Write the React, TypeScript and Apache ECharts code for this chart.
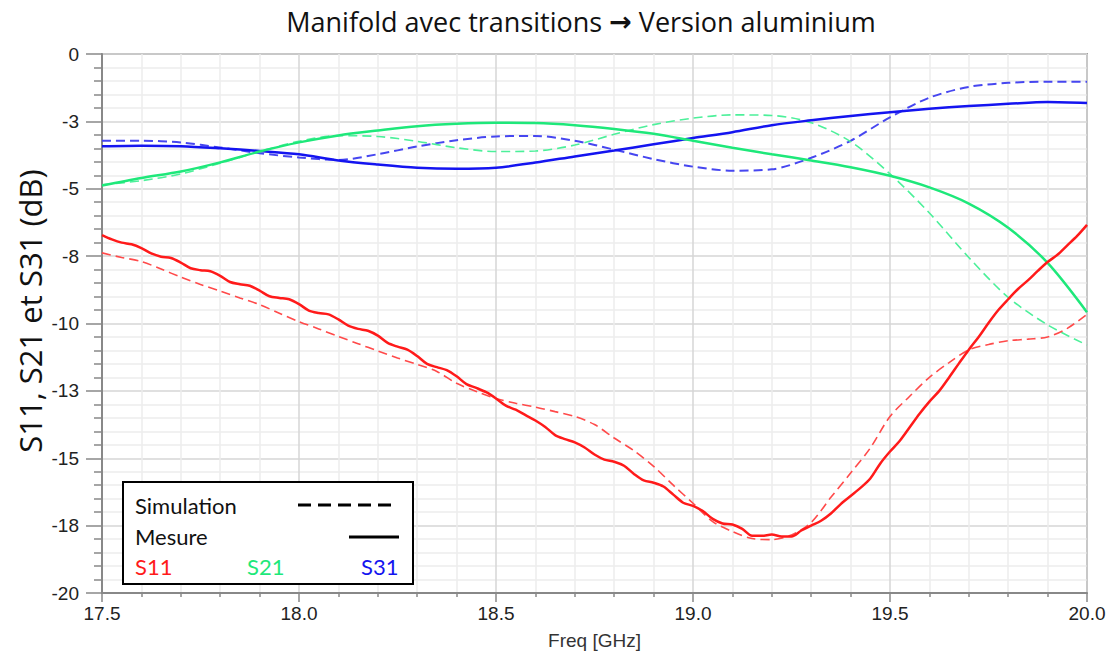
import React, { useEffect, useRef } from "react";
import * as echarts from "echarts";

// ---- Data ----
const freq01 = [17.5, 17.6, 17.7, 17.8, 17.9, 18.0, 18.1, 18.2, 18.3, 18.4, 18.5, 18.6, 18.7, 18.8, 18.9, 19.0, 19.1, 19.2, 19.3, 19.4, 19.5, 19.6, 19.7, 19.8, 19.9, 20.0];

const s31Meas = [-3.42, -3.4, -3.42, -3.5, -3.6, -3.72, -3.95, -4.1, -4.22, -4.26, -4.22, -4.03, -3.8, -3.58, -3.35, -3.12, -2.9, -2.64, -2.46, -2.3, -2.16, -2.03, -1.93, -1.85, -1.78, -1.82];
const s31Sim = [-3.22, -3.22, -3.28, -3.47, -3.68, -3.84, -3.93, -3.72, -3.43, -3.2, -3.06, -3.04, -3.22, -3.55, -3.9, -4.18, -4.33, -4.28, -3.85, -3.22, -2.35, -1.62, -1.22, -1.07, -1.03, -1.03];
const s21Meas = [-4.88, -4.6, -4.36, -4.02, -3.62, -3.28, -3.02, -2.84, -2.68, -2.59, -2.55, -2.56, -2.64, -2.78, -2.96, -3.22, -3.48, -3.72, -3.95, -4.2, -4.52, -4.95, -5.55, -6.45, -7.75, -9.58];
const s21Sim = [-4.85, -4.7, -4.45, -4.05, -3.62, -3.24, -3.03, -3.06, -3.24, -3.48, -3.62, -3.6, -3.38, -2.98, -2.62, -2.38, -2.26, -2.28, -2.55, -3.25, -4.45, -5.9, -7.55, -9.03, -10.05, -10.8];

const freq005 = [17.5, 17.55, 17.6, 17.65, 17.7, 17.75, 17.8, 17.85, 17.9, 17.95, 18.0, 18.05, 18.1, 18.15, 18.2, 18.25, 18.3, 18.35, 18.4, 18.45, 18.5, 18.55, 18.6, 18.65, 18.7, 18.75, 18.8, 18.85, 18.9, 18.95, 19.0, 19.05, 19.1, 19.15, 19.2, 19.25, 19.3, 19.35, 19.4, 19.45, 19.5, 19.55, 19.6, 19.65, 19.7, 19.75, 19.8, 19.85, 19.9, 19.95, 20.0];
const s11Sim = [-7.38, -7.55, -7.7, -7.98, -8.28, -8.55, -8.8, -9.05, -9.3, -9.62, -9.93, -10.2, -10.48, -10.75, -11.02, -11.28, -11.52, -11.78, -12.22, -12.52, -12.78, -12.96, -13.1, -13.27, -13.45, -13.75, -14.25, -14.72, -15.3, -16.0, -16.67, -17.35, -17.72, -17.98, -18.02, -17.85, -17.38, -16.45, -15.55, -14.62, -13.45, -12.7, -12.0, -11.45, -10.98, -10.78, -10.64, -10.58, -10.5, -10.18, -9.66];

const freq0025 = [17.5, 17.525, 17.55, 17.575, 17.6, 17.625, 17.65, 17.675, 17.7, 17.725, 17.75, 17.775, 17.8, 17.825, 17.85, 17.875, 17.9, 17.925, 17.95, 17.975, 18.0, 18.025, 18.05, 18.075, 18.1, 18.125, 18.15, 18.175, 18.2, 18.225, 18.25, 18.275, 18.3, 18.325, 18.35, 18.375, 18.4, 18.425, 18.45, 18.475, 18.5, 18.525, 18.55, 18.575, 18.6, 18.625, 18.65, 18.675, 18.7, 18.725, 18.75, 18.775, 18.8, 18.825, 18.85, 18.875, 18.9, 18.925, 18.95, 18.975, 19.0, 19.025, 19.05, 19.075, 19.1, 19.125, 19.15, 19.175, 19.2, 19.225, 19.25, 19.275, 19.3, 19.325, 19.35, 19.375, 19.4, 19.425, 19.45, 19.475, 19.5, 19.525, 19.55, 19.575, 19.6, 19.625, 19.65, 19.675, 19.7, 19.725, 19.75, 19.775, 19.8, 19.825, 19.85, 19.875, 19.9, 19.925, 19.95, 19.975, 20.0];
const s11Meas = [-6.72, -6.88, -7.0, -7.06, -7.2, -7.4, -7.52, -7.57, -7.74, -7.95, -8.02, -8.06, -8.23, -8.46, -8.54, -8.6, -8.78, -8.99, -9.05, -9.1, -9.28, -9.52, -9.61, -9.66, -9.85, -10.08, -10.2, -10.27, -10.45, -10.72, -10.86, -10.97, -11.21, -11.5, -11.62, -11.73, -11.96, -12.25, -12.39, -12.55, -12.78, -13.05, -13.2, -13.4, -13.6, -13.84, -14.14, -14.29, -14.41, -14.6, -14.86, -15.05, -15.13, -15.28, -15.58, -15.82, -15.91, -16.05, -16.35, -16.65, -16.77, -16.96, -17.25, -17.42, -17.46, -17.62, -17.88, -17.88, -17.83, -17.9, -17.9, -17.68, -17.5, -17.32, -17.05, -16.7, -16.4, -16.1, -15.75, -15.2, -14.75, -14.35, -13.85, -13.35, -12.9, -12.5, -12.0, -11.48, -10.97, -10.5, -9.98, -9.5, -9.1, -8.72, -8.4, -8.05, -7.72, -7.45, -7.1, -6.75, -6.34];

const legendLabels = ["Simulation", "Mesure"];
const seriesLabels = ["S11", "S21", "S31"];

const RED = "#ff1a1a";
const RED_D = "#ff4a4a";
const GREEN = "#1ee87a";
const GREEN_D = "#4cf09a";
const BLUE = "#1414f0";
const BLUE_D = "#4646f0";

const zip = (xs: number[], ys: number[]) => xs.map((x, i) => [x, ys[i]]);

export default function App() {
  const ref = useRef<HTMLDivElement>(null);
  useEffect(() => {
    if (!ref.current) return;
    const chart = echarts.init(ref.current, undefined, { renderer: "svg" });
    const tickFont = { fontFamily: "Liberation Sans, Arial, sans-serif", fontSize: 19, color: "#222" };
    const dashed = (name: string, xs: number[], ys: number[], color: string, w: number) => ({
      name, type: "line", data: zip(xs, ys), showSymbol: false, smooth: 0.3,
      lineStyle: { color, width: w, type: [9, 5] }, z: 3,
    });
    const solid = (name: string, xs: number[], ys: number[], color: string) => ({
      name, type: "line", data: zip(xs, ys), showSymbol: false, smooth: 0.3,
      lineStyle: { color, width: 2.5, type: "solid" }, z: 4,
    });
    const Z = 100;
    const legFont = "22px Lato, sans-serif";
    chart.setOption({
      animation: false,
      backgroundColor: "#ffffff",
      title: {
        text: "{t|Manifold avec transitions }{a|\u2192}{t| Version aluminium}",
        left: 576, top: 3, textAlign: "center",
        textStyle: {
          fontWeight: "normal",
          rich: {
            t: { fontFamily: "Open Sans, sans-serif", fontSize: 27, fontWeight: "normal", color: "#111" },
            a: { fontFamily: "DejaVu Sans, sans-serif", fontSize: 27, fontWeight: "bold", color: "#111" },
          },
        },
      },
      grid: { left: 102, right: 26, top: 54, bottom: 56, show: true, borderColor: "#a0a0a0", borderWidth: 2, backgroundColor: "transparent" },
      xAxis: {
        type: "value", min: 17.5, max: 20, interval: 0.5,
        name: "Freq [GHz]", nameLocation: "middle", nameGap: 38,
        nameTextStyle: { fontFamily: "Liberation Sans, Arial, sans-serif", fontSize: 19, color: "#333" },
        axisLine: { show: true, onZero: false, lineStyle: { color: "#888", width: 2 } },
        axisTick: { show: true, length: 9, lineStyle: { color: "#888", width: 1.5 } },
        minorTick: { show: true, splitNumber: 5, length: 4, lineStyle: { color: "#888", width: 1.5 } },
        axisLabel: { ...tickFont, margin: 11, formatter: (v: number) => v.toFixed(1) },
        splitLine: { show: true, lineStyle: { color: "#d6d6d6", width: 1.5 } },
        minorSplitLine: { show: true, lineStyle: { color: "#ececec", width: 1.5 } },
      },
      yAxis: {
        type: "value", min: -20, max: 0, interval: 2.5,
        axisLine: { show: true, onZero: false, lineStyle: { color: "#888", width: 2 } },
        axisTick: { show: true, length: 16, lineStyle: { color: "#888", width: 1.5 } },
        minorTick: { show: true, splitNumber: 5, length: 8, lineStyle: { color: "#888", width: 1.5 } },
        axisLabel: { ...tickFont, margin: 23, formatter: (v: number) => String(v === 0 ? 0 : -Math.round(Math.abs(v))) },
        splitLine: { show: true, lineStyle: { color: "#d6d6d6", width: 1.5 } },
        minorSplitLine: { show: true, lineStyle: { color: "#ececec", width: 1.5 } },
      },
      series: [
        dashed("S31 simulation", freq01, s31Sim, BLUE_D, 2),
        dashed("S21 simulation", freq01, s21Sim, GREEN_D, 1.6),
        dashed("S11 simulation", freq005, s11Sim, RED_D, 1.6),
        solid("S31 mesure", freq01, s31Meas, BLUE),
        solid("S21 mesure", freq01, s21Meas, GREEN),
        solid("S11 mesure", freq0025, s11Meas, RED),
      ],
      graphic: [
        {
          type: "text", x: 30, y: 311, rotation: Math.PI / 2, z: Z,
          style: { text: "S11, S21 et S31 (dB)", font: "31px 'Open Sans', sans-serif", fill: "#111", textAlign: "center", textVerticalAlign: "middle" },
        },
        { type: "rect", z: Z, shape: { x: 123, y: 482, width: 290, height: 102 }, style: { fill: "#ffffff", stroke: "#000", lineWidth: 2 } },
        { type: "text", z: Z + 1, x: 135, y: 505, style: { text: legendLabels[0], font: legFont, fill: "#111", textVerticalAlign: "middle" } },
        { type: "line", z: Z + 1, shape: { x1: 298, y1: 505, x2: 398, y2: 505 }, style: { stroke: "#000", lineWidth: 3, lineDash: [13, 7] } },
        { type: "text", z: Z + 1, x: 135, y: 536, style: { text: legendLabels[1], font: legFont, fill: "#111", textVerticalAlign: "middle" } },
        { type: "line", z: Z + 1, shape: { x1: 349, y1: 537, x2: 399, y2: 537 }, style: { stroke: "#000", lineWidth: 3 } },
        { type: "text", z: Z + 1, x: 135, y: 566, style: { text: seriesLabels[0], font: legFont, fill: RED, textVerticalAlign: "middle" } },
        { type: "text", z: Z + 1, x: 247, y: 566, style: { text: seriesLabels[1], font: legFont, fill: GREEN, textVerticalAlign: "middle" } },
        { type: "text", z: Z + 1, x: 361, y: 566, style: { text: seriesLabels[2], font: legFont, fill: BLUE, textVerticalAlign: "middle" } },
      ],
    });
    return () => chart.dispose();
  }, []);
  return <div ref={ref} style={{ position: "absolute", left: 0, top: 0, width: 1113, height: 655 }} />;
}
